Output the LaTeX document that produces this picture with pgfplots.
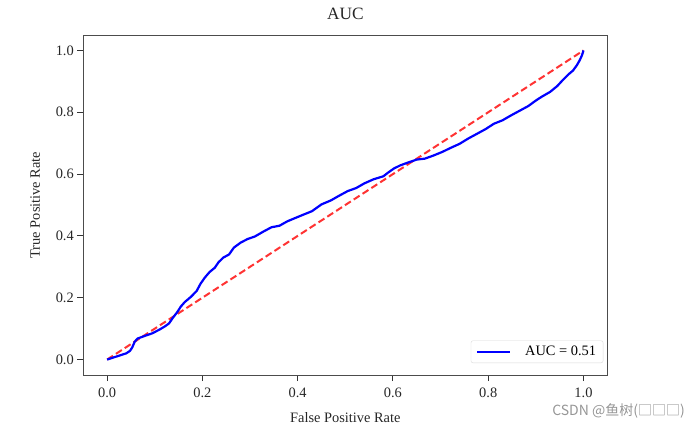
\documentclass[border=0pt]{standalone}
\usepackage{fontspec}
\setmainfont{Liberation Serif}
\newfontfamily\cjk{Noto Sans CJK SC}
\usepackage{pgfplots}
\pgfplotsset{compat=1.18}
\usetikzlibrary{calc}
\definecolor{wm}{RGB}{150,150,150}
\begin{document}
\begin{tikzpicture}
\begin{axis}[
  scale only axis, width=524pt, height=340pt,
  xmin=-0.05, xmax=1.05, ymin=-0.05, ymax=1.05,
  xtick={0,0.2,0.4,0.6,0.8,1.0},
  ytick={0,0.2,0.4,0.6,0.8,1.0},
  xticklabels={0.0,0.2,0.4,0.6,0.8,1.0},
  yticklabels={0.0,0.2,0.4,0.6,0.8,1.0},
  tick align=outside, tick pos=left, major tick length=6pt,
  tick style={black!80, line width=0.9pt},
  axis line style={black!70, line width=1pt},
  ticklabel style={font=\fontsize{14.4}{17}\selectfont, text=black!85},
  xticklabel style={yshift=-3pt},
  title={AUC},
  title style={at={(axis description cs:0.5,1.044)}, anchor=center, font=\fontsize{17.3}{20}\selectfont, text=black!85},
  xlabel={False Positive Rate},
  ylabel={True Positive Rate},
  xlabel style={at={(axis description cs:0.5,-0.125)}, anchor=center, font=\fontsize{14.4}{17}\selectfont, text=black!85},
  ylabel style={at={(axis description cs:-0.0916,0.5)}, anchor=center, font=\fontsize{14.4}{17}\selectfont, text=black!85},
  legend style={at={(axis description cs:1,0)}, anchor=south east, xshift=-4pt, yshift=12pt,
    draw=black!15, rounded corners=2pt, fill=white, font=\fontsize{14.4}{17}\selectfont,
    inner xsep=5pt, inner ysep=3.5pt},
  legend cell align=left,
  legend image code/.code={\draw[#1] (0pt,0pt) -- (33pt,0pt); \path (0pt,0pt) (45pt,0pt);},
]
\addplot[red, opacity=0.8, line width=2pt, dash pattern=on 7pt off 3.5pt, forget plot] coordinates {(0,0)(1,1)};
\addplot[blue, line width=2.2pt] coordinates {
(0,0)(0.01,0.005)(0.024,0.012)(0.04,0.02)(0.048,0.028)(0.053,0.04)(0.058,0.058)(0.064,0.068)(0.08,0.077)(0.095,0.085)(0.11,0.097)(0.122,0.108)(0.13,0.117)(0.138,0.135)(0.147,0.153)(0.155,0.172)(0.163,0.186)(0.176,0.203)(0.188,0.222)(0.196,0.245)(0.205,0.265)(0.215,0.283)(0.226,0.297)(0.234,0.315)(0.244,0.33)(0.256,0.34)(0.266,0.362)(0.28,0.378)(0.295,0.39)(0.31,0.398)(0.328,0.414)(0.345,0.428)(0.362,0.433)(0.378,0.447)(0.395,0.458)(0.414,0.47)(0.43,0.48)(0.45,0.502)(0.47,0.515)(0.487,0.53)(0.505,0.545)(0.523,0.555)(0.54,0.57)(0.559,0.583)(0.58,0.593)(0.59,0.605)(0.602,0.618)(0.615,0.628)(0.631,0.637)(0.65,0.647)(0.667,0.65)(0.685,0.66)(0.704,0.672)(0.72,0.684)(0.74,0.698)(0.758,0.715)(0.776,0.73)(0.795,0.746)(0.812,0.763)(0.83,0.774)(0.848,0.79)(0.866,0.805)(0.884,0.82)(0.9,0.838)(0.912,0.85)(0.93,0.866)(0.945,0.885)(0.957,0.905)(0.968,0.922)(0.978,0.935)(0.986,0.952)(0.992,0.968)(0.997,0.985)(1,1)};
\addlegendentry{AUC = 0.51}
\end{axis}
\node[anchor=east, inner sep=0pt, text=wm, font=\cjk\fontsize{14}{16}\selectfont] at ($(current axis.south east)+(77.7pt,-35.8pt)$) {CSDN @鱼树(□□□)};
\pgfresetboundingbox
\path ($(current axis.south west)+(-83.3pt,-54pt)$) rectangle ($(current axis.north east)+(92.7pt,35pt)$);
\end{tikzpicture}
\end{document}
